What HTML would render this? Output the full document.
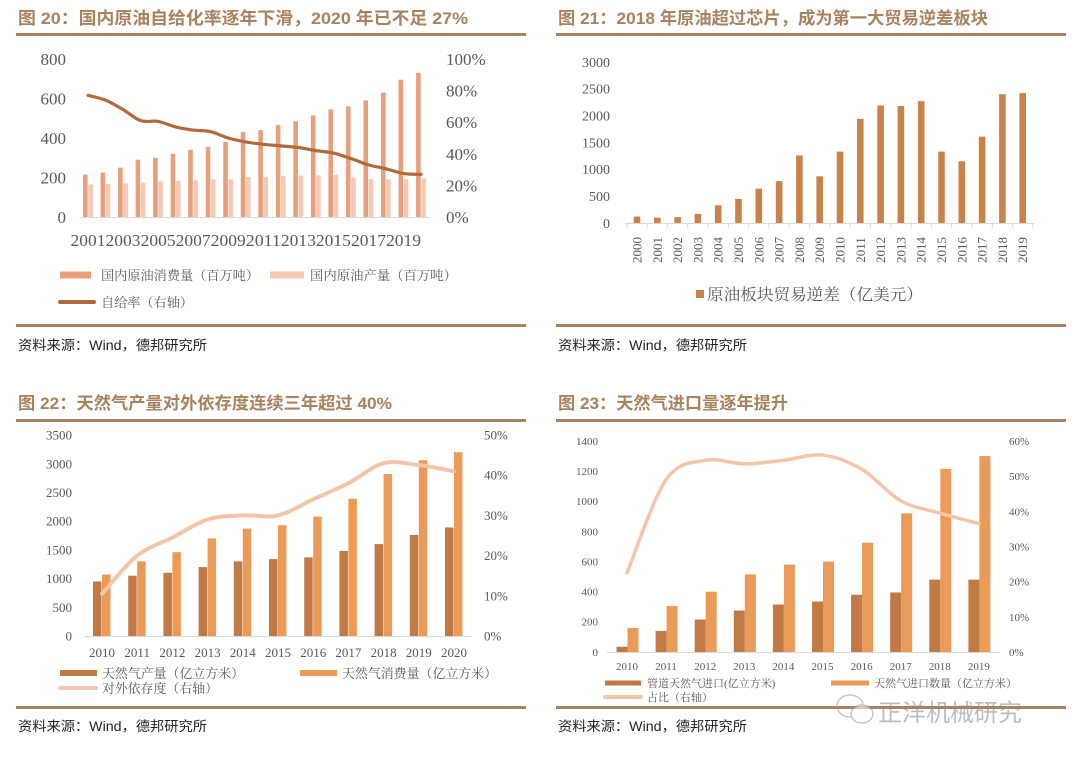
<!DOCTYPE html>
<html><head><meta charset="utf-8"><style>
html,body{margin:0;padding:0;background:#fff}
svg{display:block}
.t{font-family:"Liberation Sans","Noto Sans CJK SC",sans-serif;font-weight:bold;fill:#a8825e;font-size:17px}
.ax{font-family:"Liberation Serif","Noto Serif CJK SC",serif;fill:#595959}
.lg{font-family:"Liberation Serif","Noto Serif CJK SC",serif;fill:#595959}
.src{font-family:"Liberation Sans","Noto Sans CJK SC",sans-serif;fill:#222;font-size:13.5px}
</style></head><body>
<svg id="s" width="1080" height="757" viewBox="0 0 1080 757" xmlns="http://www.w3.org/2000/svg">
<text class="t" x="18" y="24" textLength="450" lengthAdjust="spacingAndGlyphs">图 20：国内原油自给化率逐年下滑，2020 年已不足 27%</text>
<text class="t" x="558" y="24" textLength="430" lengthAdjust="spacingAndGlyphs">图 21：2018 年原油超过芯片，成为第一大贸易逆差板块</text>
<text class="t" x="18" y="409" textLength="374" lengthAdjust="spacingAndGlyphs">图 22：天然气产量对外依存度连续三年超过 40%</text>
<text class="t" x="558" y="409" textLength="230" lengthAdjust="spacingAndGlyphs">图 23：天然气进口量逐年提升</text>
<g fill="#a8825e">
<rect x="16" y="33" width="510" height="3"/><rect x="556" y="33" width="510" height="3"/>
<rect x="16" y="324" width="510" height="3"/><rect x="556" y="324" width="510" height="3"/>
<rect x="16" y="419" width="510" height="3"/><rect x="556" y="419" width="510" height="3"/>
<rect x="16" y="706" width="510" height="3"/><rect x="556" y="706" width="510" height="3"/>
</g>
<text class="src" x="18" y="350" textLength="189" lengthAdjust="spacingAndGlyphs">资料来源：Wind，德邦研究所</text>
<text class="src" x="558" y="350" textLength="189" lengthAdjust="spacingAndGlyphs">资料来源：Wind，德邦研究所</text>
<text class="src" x="18" y="731" textLength="189" lengthAdjust="spacingAndGlyphs">资料来源：Wind，德邦研究所</text>
<text class="src" x="558" y="731" textLength="189" lengthAdjust="spacingAndGlyphs">资料来源：Wind，德邦研究所</text>
<g opacity="0.55">
<ellipse cx="850" cy="706" rx="13" ry="11" fill="none" stroke="#999" stroke-width="1.5"/>
<ellipse cx="862" cy="714" rx="11" ry="9" fill="#fff" stroke="#999" stroke-width="1.5"/>
<text x="878" y="721" font-family="Liberation Sans,Noto Sans CJK SC,sans-serif" font-size="24" fill="#888">正洋机械研究</text>
</g>
</svg>
<script>
// Fig 20 data
const yrs20=["2001","2002","2003","2004","2005","2006","2007","2008","2009","2010","2011","2012","2013","2014","2015","2016","2017","2018","2019","2020"];
const cons20=[215,225,250,290,300,320,340,355,380,430,440,465,485,515,545,560,590,630,695,730];
const prod20=[165,168,170,175,180,182,186,190,190,203,203,207,210,211,214,200,192,190,191,195];
const rate20=[77,74,68,61,60.5,57,55,54,50,47.5,46,45,44,42,40.5,37,33,30.5,27.5,27];
const lt20=["0","200","400","600","800"];const rt20=["0%","20%","40%","60%","80%","100%"];
// Fig 21 data
const yrs21=["2000","2001","2002","2003","2004","2005","2006","2007","2008","2009","2010","2011","2012","2013","2014","2015","2016","2017","2018","2019"];
const def21=[120,100,110,170,330,450,640,780,1260,870,1330,1940,2190,2180,2270,1330,1150,1610,2400,2420];
const lt21=["0","500","1000","1500","2000","2500","3000"];
// Fig 22 data
const yrs22=["2010","2011","2012","2013","2014","2015","2016","2017","2018","2019","2020"];
const prod22=[950,1050,1100,1200,1300,1340,1370,1480,1600,1760,1890];
const cons22=[1070,1300,1460,1700,1870,1930,2080,2390,2820,3060,3200];
const dep22=[10.5,20,24.5,29,30,30,34,38,43,42.5,41];
const lt22=["0","500","1000","1500","2000","2500","3000","3500"];const rt22=["0%","10%","20%","30%","40%","50%"];
// Fig 23 data
const yrs23=["2010","2011","2012","2013","2014","2015","2016","2017","2018","2019"];
const pipe23=[35,140,215,275,315,335,380,395,480,480];
const tot23=[160,305,400,515,580,600,725,920,1215,1300];
const share23=[22.5,49,54.5,53.5,54.5,56,52,43,39.5,36.5];
const lt23=["0","200","400","600","800","1000","1200","1400"];const rt23=["0%","10%","20%","30%","40%","50%","60%"];

const S=document.getElementById('s');const NS="http://www.w3.org/2000/svg";
function mk(t,a,p){const e=document.createElementNS(NS,t);for(const k in a)e.setAttribute(k,a[k]);(p||S).appendChild(e);return e;}
function lin(d0,d1,r0,r1){return v=>r0+(v-d0)/(d1-d0)*(r1-r0);}
function smooth(pts){let d="M"+pts[0][0]+","+pts[0][1];for(let i=0;i<pts.length-1;i++){const p0=pts[i-1]||pts[i],p1=pts[i],p2=pts[i+1],p3=pts[i+2]||p2;
const c1x=p1[0]+(p2[0]-p0[0])/6,c1y=p1[1]+(p2[1]-p0[1])/6,c2x=p2[0]-(p3[0]-p1[0])/6,c2y=p2[1]-(p3[1]-p1[1])/6;d+=" C"+c1x+","+c1y+" "+c2x+","+c2y+" "+p2[0]+","+p2[1];}return d;}
function ticks(g,labels,max,y,x,anchor,fs){labels.forEach(l=>{const v=parseFloat(l);const t=mk('text',{x:x,y:y(v)+fs*0.35,'text-anchor':anchor,'font-size':fs,class:'ax'},g);t.textContent=l;

});}
function bar(g,x,y0,y1,w,c,name){const r=mk('rect',{x:x,y:y1,width:w,height:y0-y1,fill:c},g);

}
function legRect(g,x,y,w,h,c,txt,tx,fs,name,tl){mk('rect',{x:x,y:y-h/2,width:w,height:h,fill:c},g);const a={x:tx,y:y+fs*0.38,'font-size':fs,class:'lg'};if(tl){a.textLength=tl;a.lengthAdjust='spacingAndGlyphs';}const t=mk('text',a,g);t.textContent=txt;

}
function legLine(g,x1,x2,y,c,sw,txt,tx,fs,name,tl){mk('line',{x1:x1,x2:x2,y1:y,y2:y,stroke:c,'stroke-width':sw,'stroke-linecap':'round'},g);const a={x:tx,y:y+fs*0.38,'font-size':fs,class:'lg'};if(tl){a.textLength=tl;a.lengthAdjust='spacingAndGlyphs';}const t=mk('text',a,g);t.textContent=txt;

}

// ===== Fig 20
{const g=mk('g',{});
const y=lin(0,800,217,59),yr=lin(0,100,217,59),x=i=>85.5+i*17.53;
mk('line',{x1:80,x2:430,y1:217.5,y2:217.5,stroke:'#d9d9d9'},g);
ticks(g,lt20,800,y,66,'end',17);
rt20.forEach(l=>{const t=mk('text',{x:446,y:yr(parseFloat(l))+6,'font-size':17,class:'ax'},g);t.textContent=l;

});
yrs20.forEach((yy,i)=>{bar(g,x(i)-2.5,y(0),y(cons20[i]),4.6,'#e8a07c','bar-consumption');bar(g,x(i)+2.7,y(0),y(prod20[i]),4.6,'#f6c9b3','bar-production');
if(i%2==0){const t=mk('text',{x:x(i)+2.5,y:246,'text-anchor':'middle','font-size':17,class:'ax',textLength:35,lengthAdjust:'spacingAndGlyphs'},g);t.textContent=yy;

}});
const p=mk('path',{d:smooth(rate20.map((v,i)=>[x(i)+2.5,yr(v)])),fill:'none',stroke:'#b06a3c','stroke-width':3.2,'stroke-linecap':'round'},g);

legRect(g,60,275,31,7,'#e8a07c','国内原油消费量（百万吨）',101,13,'legend-consumption',158);
legRect(g,270,275,34,7,'#f6c9b3','国内原油产量（百万吨）',310,13,'legend-production',147);
legLine(g,60,94,302,'#b06a3c',4,'自给率（右轴）',101,13,'legend-rate',92);}

// ===== Fig 21
{const g=mk('g',{});
const y=lin(0,3000,223,62),x=i=>637+i*20.3;
ticks(g,lt21,3000,y,610,'end',14);
mk('line',{x1:625,x2:1034,y1:223.5,y2:223.5,stroke:'#d9d9d9'},g);
yrs21.forEach((yy,i)=>{mk('line',{x1:x(i)-10.15,x2:x(i)-10.15,y1:223,y2:228,stroke:'#d9d9d9'},g);
bar(g,x(i)-3.3,y(0),y(def21[i]),6.6,'#c98247','bar-deficit');
const t=mk('text',{x:0,y:0,transform:`translate(${x(i)+4.5},250) rotate(-90)`,'text-anchor':'middle','font-size':13,class:'ax'},g);t.textContent=yy;

});
mk('line',{x1:x(19)+10.15,x2:x(19)+10.15,y1:223,y2:228,stroke:'#d9d9d9'},g);
legRect(g,696,294,8,8,'#c98247','原油板块贸易逆差（亿美元）',707,16,'legend-deficit',216);}

// ===== Fig 22
{const g=mk('g',{});
const y=lin(0,3500,636,435),yr=lin(0,50,636,435),x=i=>102+i*35.2;
ticks(g,lt22,3500,y,72,'end',13);
rt22.forEach(l=>{const t=mk('text',{x:484,y:yr(parseFloat(l))+4.5,'font-size':13,class:'ax'},g);t.textContent=l;

});
mk('line',{x1:84,x2:471,y1:636.5,y2:636.5,stroke:'#d9d9d9'},g);
yrs22.forEach((yy,i)=>{bar(g,x(i)-9,y(0),y(prod22[i]),8.5,'#c07a46','bar-production');bar(g,x(i),y(0),y(cons22[i]),8.5,'#eb9b58','bar-consumption');
const t=mk('text',{x:x(i),y:657,'text-anchor':'middle','font-size':13,class:'ax'},g);t.textContent=yy;

});
const p=mk('path',{d:smooth(dep22.map((v,i)=>[x(i),yr(v)])),fill:'none',stroke:'#f3c6aa','stroke-width':4,'stroke-linecap':'round'},g);

legRect(g,60,673,37,6,'#c07a46','天然气产量（亿立方米）',102,13,'legend-production',142);
legRect(g,300,673,37,6,'#eb9b58','天然气消费量（亿立方米）',342,13,'legend-consumption',155);
legLine(g,60,96,688,'#f3c6aa',4,'对外依存度（右轴）',102,13,'legend-dependence',116);}

// ===== Fig 23
{const g=mk('g',{});
const y=lin(0,1400,652,441),yr=lin(0,60,652,441),x=i=>627+i*39.1;
ticks(g,lt23,1400,y,598,'end',11);
rt23.forEach(l=>{const t=mk('text',{x:1009,y:yr(parseFloat(l))+4,'font-size':11,class:'ax'},g);t.textContent=l;

});
mk('line',{x1:607,x2:1000,y1:652.5,y2:652.5,stroke:'#d9d9d9'},g);
yrs23.forEach((yy,i)=>{bar(g,x(i)-10.5,y(0),y(pipe23[i]),11,'#c07a46','bar-pipeline');bar(g,x(i)+0.5,y(0),y(tot23[i]),11,'#eb9b58','bar-import-total');
const t=mk('text',{x:x(i),y:670,'text-anchor':'middle','font-size':11,class:'ax'},g);t.textContent=yy;

});
const p=mk('path',{d:smooth(share23.map((v,i)=>[x(i),yr(v)])),fill:'none',stroke:'#f3c6aa','stroke-width':3.5,'stroke-linecap':'round'},g);

legRect(g,605,683,36,5,'#c07a46','管道天然气进口(亿立方米)',647,11,'legend-pipeline');
legRect(g,831,683,38,5,'#eb9b58','天然气进口数量（亿立方米）',874,11,'legend-import-total');
legLine(g,605,641,697,'#f3c6aa',4,'占比（右轴）',647,11,'legend-share');}
</script>
</body></html>
